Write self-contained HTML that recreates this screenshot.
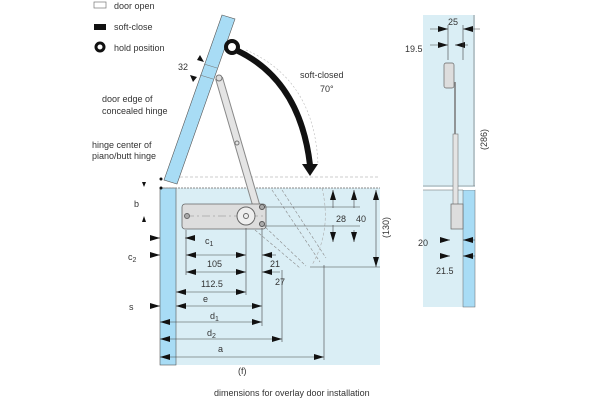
<!DOCTYPE html>
<html><head><style>
html,body{margin:0;padding:0;background:#fff;}
svg{display:block;font-family:"Liberation Sans",sans-serif;}
</style></head><body>
<svg width="600" height="400" viewBox="0 0 600 400" xmlns="http://www.w3.org/2000/svg">
<defs>
<marker id="a" viewBox="0 0 10 6" refX="10" refY="3" markerWidth="10" markerHeight="6" orient="auto-start-reverse" markerUnits="userSpaceOnUse"><path d="M0,0L10,3L0,6z" fill="#111"/></marker>
</defs>
<!-- cabinet -->
<rect x="160" y="188" width="220" height="177" fill="#daeef5"/>
<rect x="160" y="188" width="16" height="177" fill="#a8dcf5" stroke="#555" stroke-width="0.6"/>
<line x1="160" y1="188" x2="380" y2="188" stroke="#888" stroke-dasharray="2,1"/>
<line x1="165" y1="177" x2="380" y2="177" stroke="#999" stroke-width="0.6" stroke-dasharray="3,2"/>
<!-- legend -->
<rect x="94" y="2" width="12" height="6" fill="#fff" stroke="#777" stroke-width="0.7"/>
<text x="114" y="9" font-size="9" fill="#333">door open</text>
<rect x="94" y="24" width="12" height="6" fill="#111"/>
<text x="114" y="30" font-size="9" fill="#333">soft-close</text>
<circle cx="100" cy="47" r="4" fill="none" stroke="#111" stroke-width="3"/>
<text x="114" y="51" font-size="9" fill="#333">hold position</text>
<!-- open door -->
<polygon points="222,15 235,19 177,184 164,180" fill="#a8dcf5" stroke="#555" stroke-width="0.6"/>
<line x1="204" y1="64" x2="217" y2="68" stroke="#777" stroke-width="0.6"/>
<line x1="200" y1="75" x2="213" y2="79" stroke="#777" stroke-width="0.6"/>
<!-- arm -->
<line x1="219" y1="78" x2="257" y2="208" stroke="#888" stroke-width="8"/>
<line x1="219" y1="78" x2="257" y2="208" stroke="#e4e4e4" stroke-width="6"/>
<circle cx="219" cy="78" r="3" fill="#ddd" stroke="#777"/>
<circle cx="237" cy="143" r="2" fill="none" stroke="#777"/>
<!-- dashed closed arm -->
<path d="M262,224 L306,266 M255,230 L300,268 M272,190 L320,262 M282,190 L326,258" stroke="#888" stroke-width="0.6" stroke-dasharray="3,2" fill="none"/>
<path d="M322,188 Q332,230 312,265" stroke="#aaa" stroke-width="0.6" stroke-dasharray="3,2" fill="none"/>
<!-- hinge body -->
<rect x="182" y="204" width="84" height="25" rx="3" fill="#ddd" stroke="#666" stroke-width="0.8"/>
<line x1="186" y1="216" x2="265" y2="216" stroke="#888" stroke-width="0.6" stroke-dasharray="8,3,2,3"/>
<circle cx="187" cy="216" r="2.5" fill="#aaa" stroke="#666"/>
<circle cx="246" cy="216" r="9" fill="#eee" stroke="#666"/>
<circle cx="246" cy="216" r="2.5" fill="none" stroke="#666"/>
<circle cx="262" cy="207" r="2.5" fill="#aaa" stroke="#555"/>
<circle cx="262" cy="224" r="2.5" fill="#aaa" stroke="#555"/>
<!-- curved arrow -->
<path d="M236,50 Q300,80 310,165" stroke="#111" stroke-width="6" fill="none"/>
<polygon points="302,164 318,164 310,176" fill="#111"/>
<circle cx="232" cy="47" r="6" fill="#fff" stroke="#111" stroke-width="4"/>
<path d="M246,50 Q315,80 318,165" stroke="#bbb" stroke-width="0.6" stroke-dasharray="2,2" fill="none"/>
<text x="300" y="78" font-size="9" fill="#333">soft-closed</text>
<text x="320" y="92" font-size="9" fill="#333">70°</text>
<text x="178" y="70" font-size="9" fill="#333">32</text>
<polygon points="200,55 204,62 197,60" fill="#111"/>
<polygon points="193,82 190,75 197,77" fill="#111"/>
<text x="102" y="102" font-size="9" fill="#333">door edge of</text>
<text x="102" y="114" font-size="9" fill="#333">concealed hinge</text>
<text x="92" y="148" font-size="9" fill="#333">hinge center of</text>
<text x="92" y="159" font-size="9" fill="#333">piano/butt hinge</text>
<circle cx="161" cy="179" r="1.5" fill="#111"/><circle cx="161" cy="188" r="1.5" fill="#111"/>
<polygon points="142,182 146,182 144,187" fill="#111"/>
<!-- b -->
<text x="134" y="207" font-size="9" fill="#333">b</text>
<polygon points="142,222 146,222 144,216" fill="#111"/>
<!-- dims -->
<g stroke="#444" stroke-width="0.6" fill="none">
<line x1="150" y1="238" x2="160" y2="238" marker-end="url(#a)"/>
<line x1="195" y1="238" x2="185" y2="238" marker-end="url(#a)"/>
<line x1="150" y1="255" x2="160" y2="255" marker-end="url(#a)"/>
<line x1="186" y1="255" x2="246" y2="255" marker-start="url(#a)" marker-end="url(#a)"/>
<line x1="276" y1="255" x2="262" y2="255" marker-end="url(#a)"/>
<line x1="186" y1="272" x2="246" y2="272" marker-start="url(#a)" marker-end="url(#a)"/>
<line x1="280" y1="272" x2="262" y2="272" marker-end="url(#a)"/>
<line x1="176" y1="292" x2="246" y2="292" marker-start="url(#a)" marker-end="url(#a)"/>
<line x1="150" y1="306" x2="160" y2="306" marker-end="url(#a)"/>
<line x1="176" y1="306" x2="262" y2="306" marker-start="url(#a)" marker-end="url(#a)"/>
<line x1="160" y1="322" x2="262" y2="322" marker-start="url(#a)" marker-end="url(#a)"/>
<line x1="160" y1="339" x2="282" y2="339" marker-start="url(#a)" marker-end="url(#a)"/>
<line x1="160" y1="357" x2="324" y2="357" marker-start="url(#a)" marker-end="url(#a)"/>
<line x1="246" y1="228" x2="246" y2="295"/><line x1="262" y1="228" x2="262" y2="326"/>
<line x1="282" y1="270" x2="282" y2="342"/><line x1="324" y1="265" x2="324" y2="360"/>
<line x1="186" y1="230" x2="186" y2="275"/>
<line x1="333" y1="208" x2="333" y2="190" marker-end="url(#a)"/>
<line x1="333" y1="225" x2="333" y2="242" marker-end="url(#a)"/>
<line x1="354" y1="208" x2="354" y2="190" marker-end="url(#a)"/>
<line x1="354" y1="230" x2="354" y2="242" marker-end="url(#a)"/>
<line x1="376" y1="190" x2="376" y2="267" marker-start="url(#a)" marker-end="url(#a)"/>
<line x1="264" y1="207" x2="360" y2="207"/><line x1="264" y1="226" x2="360" y2="226"/>
<line x1="310" y1="267" x2="380" y2="267"/>
</g>
<g font-size="9" fill="#333">
<text x="205" y="244">c<tspan font-size="7" dy="2">1</tspan></text>
<text x="128" y="260">c<tspan font-size="7" dy="2">2</tspan></text>
<text x="207" y="267">105</text>
<text x="270" y="267">21</text>
<text x="201" y="287">112.5</text>
<text x="275" y="285">27</text>
<text x="203" y="302">e</text>
<text x="129" y="310">s</text>
<text x="210" y="319">d<tspan font-size="7" dy="2">1</tspan></text>
<text x="207" y="336">d<tspan font-size="7" dy="2">2</tspan></text>
<text x="218" y="352">a</text>
<text x="238" y="374">(f)</text>
<text x="336" y="222">28</text>
<text x="356" y="222">40</text>
<text transform="translate(389,238) rotate(-90)">(130)</text>
<text x="214" y="396">dimensions for overlay door installation</text>
</g>
<!-- side view -->
<rect x="423" y="15" width="52" height="292" fill="#daeef5"/>
<rect x="463" y="190" width="12" height="117" fill="#a8dcf5" stroke="#666" stroke-width="0.5"/>
<line x1="423" y1="186" x2="475" y2="186" stroke="#666" stroke-width="0.6"/>
<rect x="423" y="187" width="52" height="3" fill="#fff"/>
<line x1="423" y1="190" x2="463" y2="190" stroke="#666" stroke-width="0.6"/>
<line x1="474" y1="15" x2="474" y2="186" stroke="#666" stroke-width="0.6"/>
<rect x="444" y="63" width="10" height="25" rx="2" fill="#ddd" stroke="#666" stroke-width="0.7"/>
<line x1="455" y1="82" x2="455" y2="135" stroke="#777" stroke-width="1.5"/>
<rect x="453" y="134" width="5" height="75" fill="#e4e4e4" stroke="#777" stroke-width="0.6"/>
<rect x="451" y="204" width="12" height="25" fill="#ddd" stroke="#666" stroke-width="0.7"/>
<g stroke="#444" stroke-width="0.6" fill="none">
<line x1="430" y1="29" x2="448" y2="29" marker-end="url(#a)"/>
<line x1="480" y1="29" x2="463" y2="29" marker-end="url(#a)"/>
<line x1="430" y1="45" x2="448" y2="45" marker-end="url(#a)"/>
<line x1="468" y1="45" x2="455" y2="45" marker-end="url(#a)"/>
<line x1="440" y1="240" x2="450" y2="240" marker-end="url(#a)"/>
<line x1="475" y1="240" x2="463" y2="240" marker-end="url(#a)"/>
<line x1="440" y1="256" x2="450" y2="256" marker-end="url(#a)"/>
<line x1="475" y1="256" x2="463" y2="256" marker-end="url(#a)"/>
<line x1="448" y1="25" x2="448" y2="60"/><line x1="463" y1="25" x2="463" y2="60"/>
</g>
<g font-size="9" fill="#333">
<text x="448" y="25">25</text>
<text x="405" y="52">19.5</text>
<text transform="translate(487,150) rotate(-90)">(286)</text>
<text x="418" y="246">20</text>
<text x="436" y="274">21.5</text>
</g>
</svg>
</body></html>
